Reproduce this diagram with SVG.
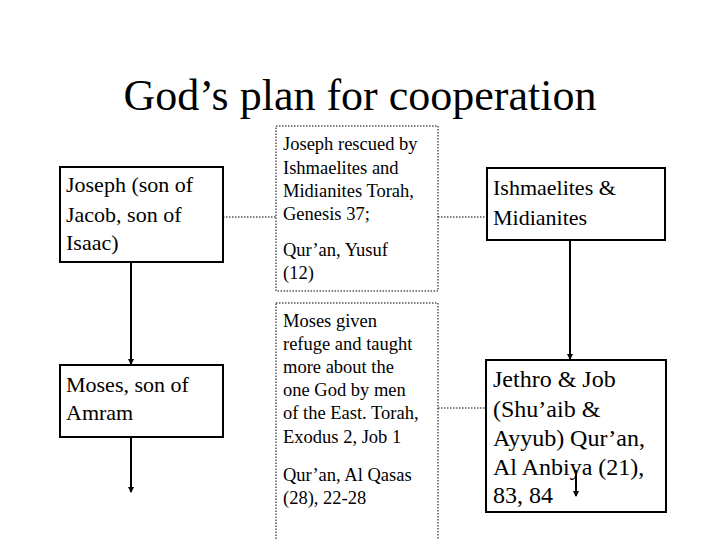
<svg xmlns="http://www.w3.org/2000/svg" width="720" height="540" viewBox="0 0 720 540">
<style>
.b{fill:#fff;stroke:#000;stroke-width:2}
.d{fill:#fff;stroke:#000;stroke-width:1;stroke-dasharray:1.5 1.5}
.t{font-size:22px}
.s{font-size:18.5px}
.l{font-size:24px}
.c{stroke:#000;stroke-width:2;fill:none}
.cd{stroke:#000;stroke-width:1;stroke-dasharray:1.5 1.5;fill:none}
</style>
<defs><marker id="a" markerWidth="6" markerHeight="6" refX="5" refY="3" orient="auto" markerUnits="userSpaceOnUse"><path d="M0,0L6,3L0,6z"/></marker></defs>
<rect width="720" height="540" fill="#fff"/>
<g font-family="'Liberation Serif', 'Times New Roman', Tinos, 'DejaVu Serif', serif" fill="#000">
<text x="360" y="110" text-anchor="middle" font-size="44">God’s plan for cooperation</text>
<g id="connectors">
<line class="cd" x1="223" y1="217" x2="276" y2="217"/>
<line class="cd" x1="438" y1="217" x2="487" y2="217"/>
<line class="cd" x1="438" y1="408" x2="486" y2="408"/>
<line class="c" x1="131" y1="262" x2="131" y2="364" marker-end="url(#a)"/>
<line class="c" x1="131" y1="437" x2="131" y2="492" marker-end="url(#a)"/>
<line class="c" x1="570" y1="240" x2="570" y2="359" marker-end="url(#a)"/>
</g>
<g id="n1"><rect class="b" x="60" y="167" width="163" height="95"/>
<text class="t" x="66" y="192">Joseph (son of</text><text class="t" x="66" y="222">Jacob, son of</text><text class="t" x="66" y="250">Isaac)</text></g>
<g id="n2"><rect class="d" x="276" y="126" width="162" height="165"/>
<text class="s" x="283" y="150">Joseph rescued by</text><text class="s" x="283" y="174">Ishmaelites and</text><text class="s" x="283" y="197">Midianites Torah,</text><text class="s" x="283" y="220">Genesis 37;</text><text class="s" x="283" y="256">Qur’an, Yusuf</text><text class="s" x="283" y="279">(12)</text></g>
<g id="n3"><rect class="b" x="487" y="168" width="178" height="72"/>
<text class="t" x="493" y="195">Ishmaelites &amp;</text><text class="t" x="493" y="225">Midianites</text></g>
<g id="n4"><rect class="b" x="60" y="365" width="163" height="72"/>
<text class="t" x="66" y="392">Moses, son of</text><text class="t" x="66" y="420">Amram</text></g>
<g id="n5"><rect class="d" x="276" y="303" width="162" height="250"/>
<text class="s" x="283" y="327">Moses given</text><text class="s" x="283" y="350">refuge and taught</text><text class="s" x="283" y="373">more about the</text><text class="s" x="283" y="396">one God by men</text><text class="s" x="283" y="419">of the East. Torah,</text><text class="s" x="283" y="443">Exodus 2, Job 1</text><text class="s" x="283" y="481">Qur’an, Al Qasas</text><text class="s" x="283" y="504">(28), 22-28</text></g>
<g id="n6"><rect class="b" x="486" y="360" width="180" height="152"/>
<text class="l" x="493" y="387">Jethro &amp; Job</text><text class="l" x="493" y="417">(Shu’aib &amp;</text><text class="l" x="493" y="446">Ayyub) Qur’an,</text><text class="l" x="493" y="475">Al Anbiya (21),</text><text class="l" x="493" y="503">83, 84</text>
<line class="c" x1="576" y1="470" x2="576" y2="496" marker-end="url(#a)"/></g>
</g>
</svg>
